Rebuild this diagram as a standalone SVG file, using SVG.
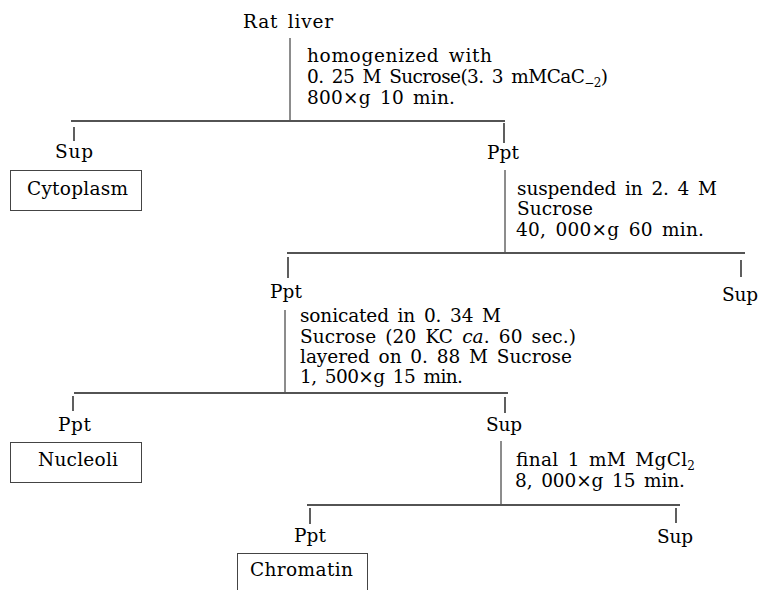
<svg xmlns="http://www.w3.org/2000/svg" width="760" height="590" viewBox="0 0 760 590">
<style>
text{font-family:"DejaVu Serif","Liberation Serif",serif;font-size:18.5px;fill:#000;word-spacing:3px}
.sub{font-size:12px}
.it{font-style:italic}
.h{stroke:#1a1a1a;stroke-width:1.4;fill:none}
.v{stroke:#1a1a1a;stroke-width:1;fill:none}
.t{stroke:#1a1a1a;stroke-width:1.4;fill:none}
.box{fill:none;stroke:#444;stroke-width:1}
</style>
<rect width="760" height="590" fill="#fff"/>
<g id="connectors">
<line class="v" x1="290" y1="38" x2="290" y2="120"/>
<line class="h" x1="71" y1="121" x2="505" y2="121"/>
<line class="t" x1="74" y1="127" x2="74" y2="141"/>
<line class="t" x1="504" y1="123" x2="504" y2="143"/>
<line class="v" x1="505" y1="170" x2="505" y2="252"/>
<line class="h" x1="287" y1="253" x2="745" y2="253"/>
<line class="t" x1="288" y1="257" x2="288" y2="278"/>
<line class="t" x1="741" y1="260" x2="741" y2="277"/>
<line class="v" x1="285" y1="310" x2="285" y2="392"/>
<line class="h" x1="74" y1="393" x2="508" y2="393"/>
<line class="t" x1="73" y1="396" x2="73" y2="411"/>
<line class="t" x1="505" y1="397" x2="505" y2="413"/>
<line class="v" x1="501" y1="441" x2="501" y2="504"/>
<line class="h" x1="307" y1="505" x2="680" y2="505"/>
<line class="t" x1="310" y1="508" x2="310" y2="524"/>
<line class="t" x1="676" y1="508" x2="676" y2="523"/>
</g>
<g id="rat-liver"><text x="243" y="28" textLength="90">Rat liver</text></g>
<g id="step1">
<text x="307" y="62" textLength="185">homogenized with</text>
<text x="307" y="83" textLength="301">0. 25 M Sucrose(3. 3 mMCaC<tspan class="sub" dy="4">−2</tspan><tspan dy="-4">)</tspan></text>
<text x="307" y="104" textLength="148">800×g 10 min.</text>
</g>
<g id="sup1"><text x="55" y="158" textLength="38">Sup</text></g>
<g id="cytoplasm"><rect class="box" x="10.5" y="170.5" width="131" height="40"/><text x="27" y="195" textLength="101">Cytoplasm</text></g>
<g id="ppt1"><text x="487" y="159" textLength="32">Ppt</text></g>
<g id="step2">
<text x="517" y="195" textLength="200">suspended in 2. 4 M</text>
<text x="517" y="215" textLength="76">Sucrose</text>
<text x="516" y="236" textLength="188">40, 000×g 60 min.</text>
</g>
<g id="ppt2"><text x="270" y="298" textLength="32">Ppt</text></g>
<g id="sup2"><text x="722" y="301" textLength="36">Sup</text></g>
<g id="step3">
<text x="300" y="322" textLength="201">sonicated in 0. 34 M</text>
<text x="300" y="343" textLength="276">Sucrose (20 KC <tspan class="it">ca</tspan>. 60 sec.)</text>
<text x="300" y="363" textLength="272">layered on 0. 88 M Sucrose</text>
<text x="300" y="383" textLength="163">1, 500×g 15 min.</text>
</g>
<g id="ppt3"><text x="58" y="431" textLength="33">Ppt</text></g>
<g id="nucleoli"><rect class="box" x="10.5" y="442.5" width="131" height="40"/><text x="38" y="466" textLength="80">Nucleoli</text></g>
<g id="sup3"><text x="486" y="431" textLength="36">Sup</text></g>
<g id="step4">
<text x="516" y="466" textLength="179">final 1 mM MgCl<tspan class="sub" dy="4">2</tspan></text>
<text x="515" y="487" textLength="170">8, 000×g 15 min.</text>
</g>
<g id="ppt4"><text x="294" y="542" textLength="32">Ppt</text></g>
<g id="sup4"><text x="657" y="543" textLength="36">Sup</text></g>
<g id="chromatin"><rect class="box" x="237.5" y="553.5" width="130" height="40"/><text x="250" y="576" textLength="103">Chromatin</text></g>
</svg>
